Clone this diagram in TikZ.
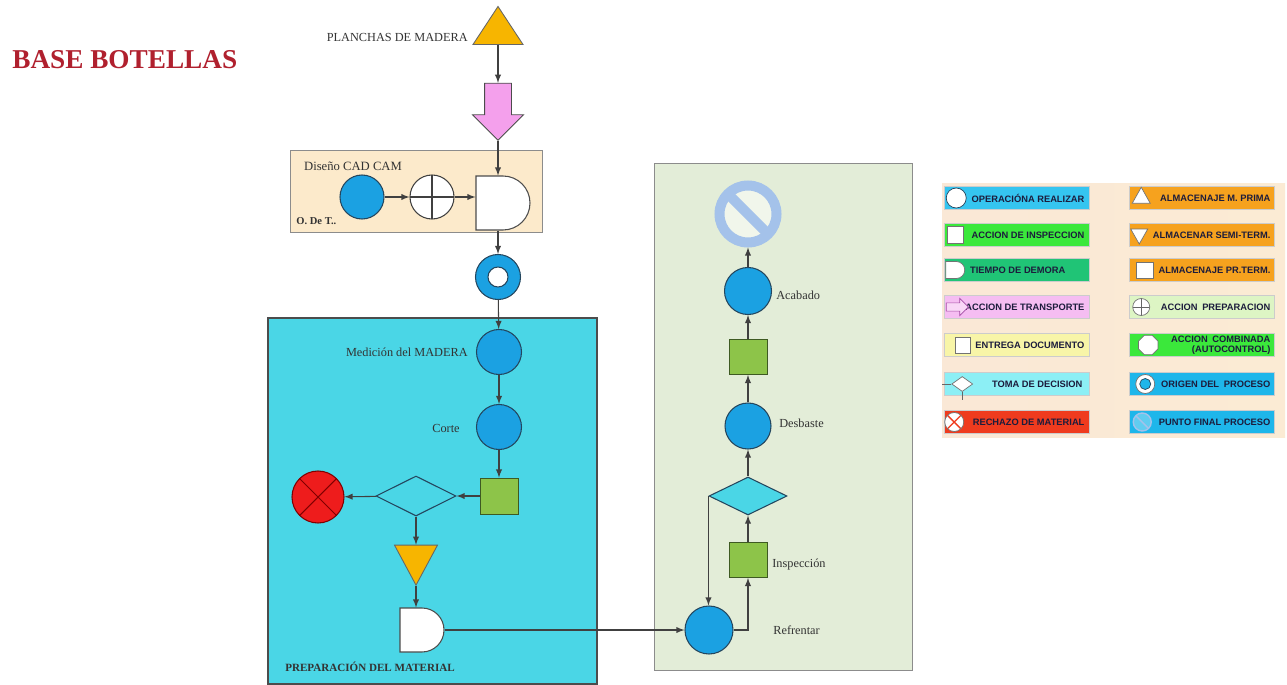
\documentclass[tikz,border=0pt]{standalone}
\usepackage{fontspec}
\setmainfont{Liberation Serif}
\setsansfont{Liberation Sans}
\usetikzlibrary{shapes.geometric,shapes.misc,shapes.arrows,calc}

\definecolor{opblue}{HTML}{1BA1E2}
\definecolor{edgeblue}{HTML}{24465E}
\definecolor{inspgreen}{HTML}{8DC449}
\definecolor{edgegreen}{HTML}{3E5A22}
\definecolor{prepcyan}{HTML}{4AD6E6}
\definecolor{cadpeach}{HTML}{FCEACB}
\definecolor{finbg}{HTML}{E3EDD8}
\definecolor{pinkarrow}{HTML}{F4A0EC}
\definecolor{storeorange}{HTML}{F7B500}
\definecolor{rejred}{HTML}{EE1C1C}
\definecolor{endblue}{HTML}{A4C2EA}
\definecolor{titlered}{HTML}{B0202E}
\definecolor{linegray}{HTML}{404040}
\definecolor{legink}{HTML}{1C1C3C}
\definecolor{legbgA}{HTML}{FAE8D6}
\definecolor{legbgB}{HTML}{EEE8DD}
\definecolor{legbgC}{HTML}{FBEBD4}
\definecolor{legcyan}{HTML}{35C5F0}
\definecolor{leglime}{HTML}{3BE83B}
\definecolor{legsea}{HTML}{20C476}
\definecolor{legpink}{HTML}{F5BDF2}
\definecolor{legyellow}{HTML}{F8F5A8}
\definecolor{legaqua}{HTML}{8CEFF5}
\definecolor{legred}{HTML}{EF3B1E}
\definecolor{legorange}{HTML}{F6A21E}
\definecolor{legmint}{HTML}{DDF5C4}
\definecolor{legsky}{HTML}{1EB6EA}

\tikzset{
	flow/.style={draw=linegray, line width=0.6pt, -latex},
	lbl/.style={font=\fontsize{7}{8}\selectfont, text=black!80, inner sep=0pt},
	opcirc/.style={circle, draw=edgeblue, fill=opblue, line width=0.6pt, minimum size=9mm, inner sep=0pt},
	inspbox/.style={rectangle, draw=edgegreen, fill=inspgreen, line width=0.5pt, minimum width=7.6mm, minimum height=7.2mm, inner sep=0pt},
	decision/.style={diamond, aspect=2, draw=edgeblue, line width=0.6pt, minimum width=16mm, minimum height=8mm, inner sep=0pt},
	delay/.style={rounded rectangle, rounded rectangle left arc=none, draw=black!70, fill=white, line width=0.6pt, minimum width=8.6mm, minimum height=10.8mm, inner sep=0pt},
	storeup/.style={isosceles triangle, isosceles triangle stretches, shape border rotate=90, draw=black!60, fill=storeorange, line width=0.5pt, minimum width=10mm, minimum height=7.6mm, inner sep=0pt},
	storedown/.style={storeup, shape border rotate=270, minimum width=8.6mm, minimum height=8mm},
	transport/.style={single arrow, shape border rotate=270, draw=black!70, fill=pinkarrow, line width=0.5pt, minimum width=10mm, minimum height=11.4mm, single arrow head extend=2.4mm, inner sep=2.6mm},
	prepcirc/.style={circle, draw=black!75, fill=white, line width=0.6pt, minimum size=8.8mm, inner sep=0pt,
		path picture={\draw[black!75] (path picture bounding box.north) -- (path picture bounding box.south)
			(path picture bounding box.west) -- (path picture bounding box.east);}},
	reject/.style={circle, draw=red!50!black, fill=rejred, line width=0.6pt, minimum size=10.4mm, inner sep=0pt,
		path picture={\draw[red!50!black] (path picture bounding box.north west) -- (path picture bounding box.south east)
			(path picture bounding box.north east) -- (path picture bounding box.south west);}},
	origin/.style={circle, draw=edgeblue, fill=opblue, line width=0.6pt, minimum size=9mm, inner sep=0pt,
		path picture={\draw[edgeblue, fill=white] (path picture bounding box.center) circle (2mm);}},
	finish/.style={circle, draw=endblue, line width=2mm, fill=white!50!finbg, minimum size=11.4mm, inner sep=0pt,
		path picture={\draw[endblue, line width=2mm] (path picture bounding box.north west) -- (path picture bounding box.south east);}},
	legbox/.style={rectangle, draw=black!20, line width=0.3pt, minimum width=29mm, minimum height=4.6mm, inner sep=0pt},
	legtext/.style={font=\sffamily\bfseries\fontsize{5.3}{5.9}\selectfont, text=legink, anchor=east, align=right, inner sep=0pt},
	legicon/.style={draw=black!55, fill=white, line width=0.4pt, inner sep=0pt}
}

\begin{document}
\begin{tikzpicture}[x=0.2mm, y=-0.2mm]

	\useasboundingbox (0,0) rectangle (1287,685);

	% background boxes
	\draw[black!45, fill=cadpeach, line width=0.5pt] (290,150) rectangle (542,232);
	\draw[black!70, fill=prepcyan, line width=0.6pt] (268,318) rectangle (597,684);
	\draw[black!45, fill=finbg, line width=0.5pt] (654,163) rectangle (912,670);

	\node[font=\bfseries\fontsize{15.5}{17}\selectfont, text=titlered, anchor=west, inner sep=0pt] (title) at (12,60) {BASE BOTELLAS};

	% upper part
	\node[storeup] (mprima) at (498,31) {};
	\node[lbl, anchor=east] (lplan) at (468,37) {PLANCHAS DE MADERA};
	\node[transport] (trans) at (498,105) {};

	\node[lbl, font=\fontsize{7.2}{8}\selectfont] (lcad) at (353,166) {Diseño CAD CAM};
	\node[lbl, font=\bfseries\fontsize{6}{7}\selectfont, anchor=west] (lodt) at (296,221) {O. De T..};
	\node[opcirc, minimum size=8.8mm] (dis) at (362,197) {};
	\node[prepcirc] (prep) at (432,197) {};
	\node[delay] (dly1) at (503,203) {};

	\node[origin] (orig) at (498,277) {};

	% preparacion del material
	\node[opcirc] (med) at (499,352) {};
	\node[lbl, anchor=east] (lmed) at (468,352) {Medición del MADERA};
	\node[opcirc] (corte) at (499,427) {};
	\node[lbl, anchor=east] (lcorte) at (460,428) {Corte};
	\node[inspbox] (insp1) at (499,496) {};
	\node[decision, fill=prepcyan] (dec1) at (416,496) {};
	\node[reject] (rech) at (318,497) {};
	\node[storedown] (semi) at (416,558) {};
	\node[delay, minimum height=8.8mm] (dly2) at (422,630) {};
	\node[lbl, font=\bfseries\fontsize{6.3}{7}\selectfont, anchor=west] (lprep) at (285,667) {PREPARACIÓN DEL MATERIAL};

	% acabado
	\node[opcirc, minimum size=9.6mm] (refr) at (709,630) {};
	\node[lbl, anchor=west] (lrefr) at (773,630) {Refrentar};
	\node[inspbox, minimum height=7mm] (insp2) at (748,560) {};
	\node[lbl, anchor=west] (linsp) at (772,565) {Inspección};
	\node[decision, fill=prepcyan, minimum width=15.6mm, minimum height=7.6mm] (dec2) at (748,496) {};
	\node[opcirc, minimum size=9.2mm] (desb) at (748,426) {};
	\node[lbl, anchor=west] (ldesb) at (779,423) {Desbaste};
	\node[inspbox, minimum height=7mm] (insp3) at (748,357) {};
	\node[opcirc, minimum size=9.4mm] (acab) at (748,291) {};
	\node[lbl, anchor=west] (lacab) at (776,295) {Acabado};
	\node[finish] (fin) at (748,214) {};

	% connectors
	\draw[flow] (mprima) -- (trans);
	\draw[flow] (trans.tip) -- (trans.tip |- dly1.north);
	\draw[flow] (dis) -- (prep);
	\draw[flow] (prep) -- (prep -| dly1.west);
	\draw[flow] (orig |- dly1.south) -- (orig);
	\draw[flow] (orig) -- (med);
	\draw[flow] (med) -- (corte);
	\draw[flow] (corte) -- (insp1);
	\draw[flow] (insp1) -- (dec1);
	\draw[flow] (dec1) -- (rech);
	\draw[flow] (dec1) -- (semi);
	\draw[flow] (semi) -- (semi |- dly2.north);
	\draw[flow] (dly2.east) -- (refr);
	\draw[flow] (refr.east) -| (insp2);
	\draw[flow] (insp2) -- (dec2);
	\draw[flow] (dec2.west) -- (dec2.west |- refr.north);
	\draw[flow] (dec2) -- (desb);
	\draw[flow] (desb) -- (insp3);
	\draw[flow] (insp3) -- (acab);
	\draw[flow] (acab) -- (fin);

	% legend
	\fill[left color=legbgA, middle color=legbgB, right color=legbgC] (942,183) rectangle (1285,437);

	\foreach \fillc/\txt/\xx/\yy [count=\i] in {legcyan/{OPERACIÓNA REALIZAR}/-5/198, leglime/{ACCION DE INSPECCION}/-5/235,
		legsea/{TIEMPO DE DEMORA}/-24/270, legpink/{ACCION DE TRANSPORTE}/-5/307, legyellow/{ENTREGA DOCUMENTO}/-5/345,
		legaqua/{TOMA DE DECISION}/-7/384, legred/{RECHAZO DE MATERIAL}/-5/422} {
		\node[legbox, fill=\fillc] (legL\i) at (1017,\yy) {};
		\node[legtext] (legLt\i) at ($(legL\i.east)+(\xx,0)$) {\txt};
	}
	\foreach \fillc/\txt/\yy [count=\i] in {legorange/{ALMACENAJE M. PRIMA}/198, legorange/{ALMACENAR SEMI-TERM.}/235,
		legorange/{ALMACENAJE PR.TERM.}/270, legmint/{ACCION\enspace PREPARACION}/307, leglime/{ACCION\enspace COMBINADA\\(AUTOCONTROL)}/345,
		legsky/{ORIGEN DEL\enspace PROCESO}/384, legsky/{PUNTO FINAL PROCESO}/422} {
		\node[legbox, fill=\fillc] (legR\i) at (1202,\yy) {};
		\node[legtext] (legRt\i) at ($(legR\i.east)+(-4,0)$) {\txt};
	}

	% legend icons
	\node[legicon, circle, draw=edgeblue, minimum size=4mm] (icL1) at ($(legL1.west)+(12,0)$) {};
	\node[legicon, rectangle, minimum size=3.3mm] (icL2) at ($(legL2.west)+(11,0)$) {};
	\node[legicon, rounded rectangle, rounded rectangle left arc=none, minimum width=3.8mm, minimum height=3.4mm] (icL3) at ($(legL3.west)+(11,0)$) {};
	\node[legicon, single arrow, draw=violet!70, fill=legpink!60!white, minimum width=3.4mm, minimum height=4.4mm, single arrow head extend=0.6mm, inner sep=0.5mm] (icL4) at ($(legL4.west)+(11,0)$) {};
	\node[legicon, rectangle, minimum width=3mm, minimum height=3.2mm] (icL5) at ($(legL5.west)+(19,0)$) {};
	\node[legicon, diamond, aspect=1.6, minimum width=4.2mm, minimum height=3mm] (icL6) at ($(legL6.west)+(18,0)$) {};
	\draw[black!60, line width=0.4pt] (icL6.west) -- ++(-9,0);
	\draw[black!60, line width=0.4pt] (icL6.south) -- ++(0,8);
	\node[legicon, circle, minimum size=3.8mm, path picture={\draw[legred, line width=0.8pt] (path picture bounding box.north west) -- (path picture bounding box.south east) (path picture bounding box.north east) -- (path picture bounding box.south west);}] (icL7) at ($(legL7.west)+(10,0)$) {};

	\node[legicon, isosceles triangle, isosceles triangle stretches, shape border rotate=90, minimum width=3.6mm, minimum height=3.2mm] (icR1) at ($(legR1.west)+(12,0)$) {};
	\node[legicon, isosceles triangle, isosceles triangle stretches, shape border rotate=270, minimum width=3.4mm, minimum height=3mm] (icR2) at ($(legR2.west)+(10,-1)$) {};
	\node[legicon, rectangle, minimum width=3.4mm, minimum height=3.2mm] (icR3) at ($(legR3.west)+(16,0)$) {};
	\node[legicon, circle, minimum size=3.4mm, path picture={\draw[black!60] (path picture bounding box.north) -- (path picture bounding box.south) (path picture bounding box.west) -- (path picture bounding box.east);}] (icR4) at ($(legR4.west)+(12,0)$) {};
	\node[legicon, regular polygon, regular polygon sides=8, minimum size=4.2mm] (icR5) at ($(legR5.west)+(19,0)$) {};
	\node[legicon, circle, minimum size=3.8mm, path picture={\draw[edgeblue, fill=legsky] (path picture bounding box.center) circle (1.1mm);}] (icR6) at ($(legR6.west)+(16,0)$) {};
	\node[legicon, circle, draw=endblue, fill=legsky!70!white, line width=0.8pt, minimum size=3.6mm, path picture={\draw[endblue, line width=0.8pt] (path picture bounding box.north west) -- (path picture bounding box.south east);}] (icR7) at ($(legR7.west)+(13,0)$) {};

\end{tikzpicture}
\end{document}
